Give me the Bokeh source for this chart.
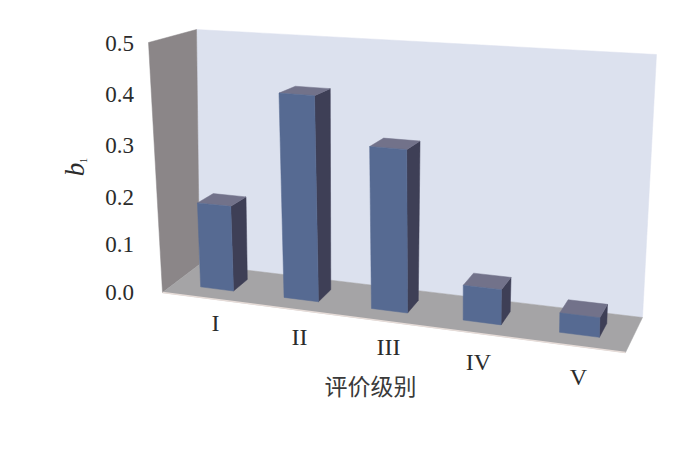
from bokeh.plotting import figure
from bokeh.embed import file_html
from bokeh.resources import INLINE
from bokeh.core.properties import value

categories = ["I", "II", "III", "IV", "V"]
b1_values = [0.17, 0.405, 0.314, 0.066, 0.036]
y_ticks = [0.0, 0.1, 0.2, 0.3, 0.4, 0.5]
y_tick_labels = ["0.0", "0.1", "0.2", "0.3", "0.4", "0.5"]
x_title = "评价级别"
y_title = "b"
y_title_sub = "1"

# Projection of the chart box onto the page: (u along categories, v = value, w depth)
Y_MAX = 0.5
FL_B, FL_T = (162, 292), (148, 42)
FR_B, FR_T = (625, 352), (629, 72)
BL_B, BL_T = (199, 264), (196, 29)
BR_B, BR_T = (642, 317), (656, 54)
DEPTH_FRONT, DEPTH_BACK = 0.32, 0.72
HALF_WIDTH = 0.2


def cat_u(i):
    return (0.0935 + 0.1779 * i) / (1 - 0.0231 * i)


def mix(a, b, t):
    return (a[0] + (b[0] - a[0]) * t, a[1] + (b[1] - a[1]) * t)


def proj(u, val, w):
    t = val / Y_MAX
    front = mix(mix(FL_B, FR_B, u), mix(FL_T, FR_T, u), t)
    back = mix(mix(BL_B, BR_B, u), mix(BL_T, BR_T, u), t)
    return mix(front, back, w)


def face(points):
    return [p[0] for p in points], [p[1] for p in points]


p = figure(width=684, height=435, x_range=(0, 684), y_range=(435, 0),
           toolbar_location=None, output_backend="svg", min_border=0,
           outline_line_color=None, background_fill_color="white",
           border_fill_color="white")
p.axis.visible = False
p.grid.visible = False

def draw(points, color):
    xs, ys = face(points)
    p.patch(xs, ys, fill_color=color, line_color=color, line_width=0.5)

# walls and floor
draw([proj(0, 0, 1), proj(1, 0, 1), proj(1, Y_MAX, 1), proj(0, Y_MAX, 1)], "#DCE1EE")
draw([proj(0, 0, 0), proj(0, 0, 1), proj(0, Y_MAX, 1), proj(0, Y_MAX, 0)], "#8B8688")
draw([proj(0, 0, 0), proj(1, 0, 0), proj(1, 0, 1), proj(0, 0, 1)], "#A5A4A6")
xs, ys = face([proj(0, 0, 0), proj(1, 0, 0)])
p.line(xs, ys, line_color="#E6DCD8", line_width=1.5)

# bars
for i, v in enumerate(b1_values):
    u0, u1 = cat_u(i - HALF_WIDTH), cat_u(i + HALF_WIDTH)
    d0, d1 = DEPTH_FRONT, DEPTH_BACK
    draw([proj(u1, 0, d0), proj(u1, 0, d1), proj(u1, v, d1), proj(u1, v, d0)], "#3E3F56")
    draw([proj(u0, v, d0), proj(u1, v, d0), proj(u1, v, d1), proj(u0, v, d1)], "#72728A")
    draw([proj(u0, 0, d0), proj(u1, 0, d0), proj(u1, v, d0), proj(u0, v, d0)], "#566A92")

serif = value("Liberation Serif")
ink = "#2B2B2B"

# value axis labels
tick_nudge = [0, 2, 5, 3, 2, 1]
for t, lab, n in zip(y_ticks, y_tick_labels, tick_nudge):
    x, y = proj(0, t, 0)
    p.text([119], [y + n], text=[lab], text_font=serif, text_font_size="23px",
           text_color=ink, text_align="center", text_baseline="middle")

# category labels
cat_offsets = [(215, 322), (299, 336), (388, 346), (478, 361), (578, 376)]
for lab, (x, y) in zip(categories, cat_offsets):
    p.text([x], [y], text=[lab], text_font=serif, text_font_size="24px",
           text_color=ink, text_align="center", text_baseline="middle")

p.text([370], [384], text=[x_title], text_font=value("Noto Sans CJK SC"),
       text_font_size="23px", text_color="#3A3A3A", text_align="center", text_baseline="middle")

p.text([74], [169], text=[y_title], text_font=serif, text_font_style="italic",
       text_font_size="27px", text_color=ink, text_align="center", text_baseline="middle",
       angle=1.5708)
p.text([83], [160], text=[y_title_sub], text_font=serif, text_font_size="10px",
       text_color=ink, text_align="center", text_baseline="middle", angle=1.5708)

open("out.html", "w").write(file_html(p, INLINE))
